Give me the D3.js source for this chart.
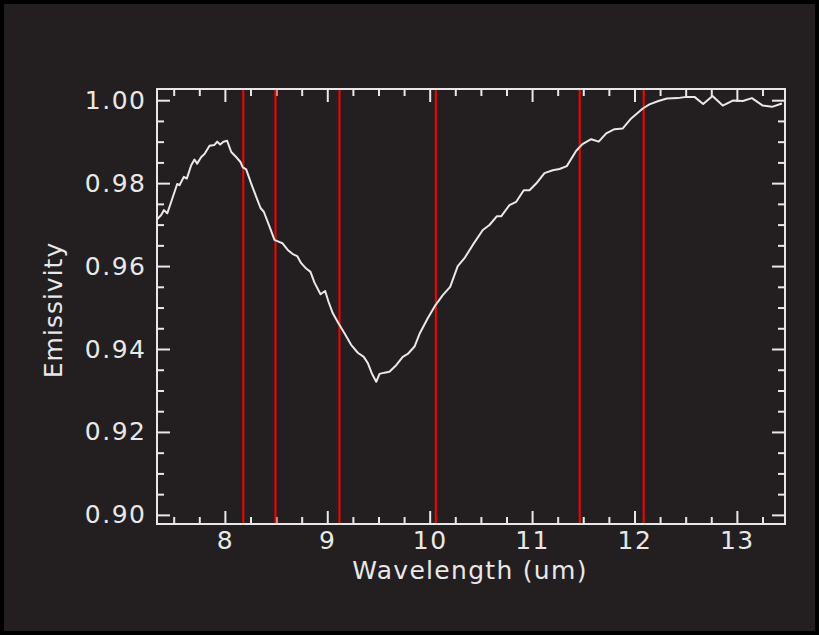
<!DOCTYPE html>
<html>
<head>
<meta charset="utf-8">
<script src="https://cdn.jsdelivr.net/npm/d3@7"></script>
<style>
  html, body { margin: 0; padding: 0; background: #000; }
  svg { display: block; }
</style>
</head>
<body>
<svg id="chart" width="819" height="635"></svg>
<script>
// ---- data ----
const wavelength = [
  7.339, 7.378, 7.405, 7.437, 7.476, 7.534, 7.557, 7.599, 7.628, 7.671,
  7.703, 7.729, 7.769, 7.801, 7.850, 7.898, 7.925, 7.954, 7.986, 8.022,
  8.062, 8.110, 8.152, 8.175, 8.208, 8.257, 8.306, 8.348, 8.380, 8.436,
  8.484, 8.523, 8.563, 8.614, 8.663, 8.706, 8.745, 8.794, 8.836, 8.875,
  8.934, 8.979, 9.012, 9.054, 9.109, 9.168, 9.233, 9.298, 9.356, 9.396,
  9.435, 9.478, 9.510, 9.559, 9.607, 9.673, 9.737, 9.786, 9.852, 9.900,
  9.981, 10.057, 10.128, 10.200, 10.274, 10.340, 10.421, 10.519, 10.584, 10.655,
  10.698, 10.779, 10.845, 10.919, 10.975, 11.040, 11.121, 11.202, 11.268, 11.339,
  11.431, 11.492, 11.577, 11.651, 11.724, 11.805, 11.886, 11.968, 12.081, 12.146,
  12.234, 12.317, 12.423, 12.505, 12.586, 12.671, 12.762, 12.862, 12.960, 13.058,
  13.147, 13.253, 13.343, 13.440
];
const emissivity = [
  0.9713, 0.9723, 0.9735, 0.9727, 0.9755, 0.9798, 0.9795, 0.9815, 0.9811, 0.9843,
  0.9857, 0.9847, 0.9863, 0.9870, 0.9890, 0.9892, 0.9900, 0.9893, 0.9900, 0.9902,
  0.9875, 0.9863, 0.9851, 0.9838, 0.9833, 0.9799, 0.9767, 0.9740, 0.9731, 0.9695,
  0.9663, 0.9659, 0.9655, 0.9639, 0.9629, 0.9624, 0.9607, 0.9594, 0.9586, 0.9560,
  0.9532, 0.9540, 0.9514, 0.9486, 0.9462, 0.9438, 0.9410, 0.9391, 0.9381, 0.9366,
  0.9341, 0.9321, 0.9340, 0.9343, 0.9345, 0.9361, 0.9381, 0.9388, 0.9406, 0.9436,
  0.9474, 0.9506, 0.9530, 0.9550, 0.9600, 0.9619, 0.9651, 0.9687, 0.9699, 0.9720,
  0.9720, 0.9747, 0.9755, 0.9783, 0.9783, 0.9799, 0.9824, 0.9831, 0.9834, 0.9841,
  0.9878, 0.9894, 0.9906, 0.9900, 0.9920, 0.9930, 0.9932, 0.9956, 0.9980, 0.9990,
  0.9998, 1.0004, 1.0005, 1.0008, 1.0008, 0.9991, 1.0010, 0.9987, 0.9999, 0.9998,
  1.0005, 0.9987, 0.9984, 0.9992
];
const bandLines = [8.18, 8.494, 9.119, 10.06, 11.465, 12.09];
const xMajorTicks = [8, 9, 10, 11, 12, 13];
const xMinorTicks = [7.5, 7.75, 8.25, 8.5, 8.75, 9.25, 9.5, 9.75, 10.25, 10.5, 10.75,
                     11.25, 11.5, 11.75, 12.25, 12.5, 12.75, 13.25];
const yMajorTicks = [0.90, 0.92, 0.94, 0.96, 0.98, 1.00];
const yMinorTicks = [0.905, 0.91, 0.915, 0.925, 0.93, 0.935, 0.945, 0.95, 0.955,
                     0.965, 0.97, 0.975, 0.985, 0.99, 0.995];
const xTitle = "Wavelength (um)";
const yTitle = "Emissivity";

// ---- layout ----
const W = 819, H = 635;
const L = 157, R = 785, T = 89, B = 524;
const fg = "#e8e8e8";
const fontFam = "'DejaVu Sans', sans-serif";

const svg = d3.select("#chart");
svg.append("rect").attr("x", 0).attr("y", 0).attr("width", W).attr("height", H).attr("fill", "#000");
svg.append("rect").attr("x", 4).attr("y", 4).attr("width", W - 8).attr("height", H - 8).attr("fill", "#231f20");

const x = d3.scaleLinear().domain([7.337, 13.47]).range([L, R]);
const y = d3.scaleLinear().domain([0.8978, 1.0027]).range([B, T]);

function styleAxis(g) {
  g.select(".domain").remove();
  g.selectAll(".tick line").attr("stroke", fg).attr("stroke-width", 2);
  g.selectAll(".tick text").attr("fill", fg)
    .style("font-family", fontFam).style("font-size", "25px").style("letter-spacing", "1.5px");
}

// minor ticks (no labels)
const minorLen = 7, majorLen = 13;
svg.append("g").attr("transform", `translate(0,${B})`)
  .call(d3.axisBottom(x).tickValues(xMinorTicks).tickSize(-minorLen).tickFormat(""))
  .call(styleAxis);
svg.append("g").attr("transform", `translate(0,${T})`)
  .call(d3.axisTop(x).tickValues(xMinorTicks).tickSize(-minorLen).tickFormat(""))
  .call(styleAxis);
svg.append("g").attr("transform", `translate(${L},0)`)
  .call(d3.axisLeft(y).tickValues(yMinorTicks).tickSize(-minorLen).tickFormat(""))
  .call(styleAxis);
svg.append("g").attr("transform", `translate(${R},0)`)
  .call(d3.axisRight(y).tickValues(yMinorTicks).tickSize(-minorLen).tickFormat(""))
  .call(styleAxis);

// major ticks
svg.append("g").attr("transform", `translate(0,${B})`)
  .call(d3.axisBottom(x).tickValues(xMajorTicks).tickSize(-majorLen).tickPadding(7).tickFormat(d3.format("d")))
  .call(styleAxis);
svg.append("g").attr("transform", `translate(0,${T})`)
  .call(d3.axisTop(x).tickValues(xMajorTicks).tickSize(-majorLen).tickFormat(""))
  .call(styleAxis);
svg.append("g").attr("transform", `translate(${L},0)`)
  .call(d3.axisLeft(y).tickValues(yMajorTicks).tickSize(-majorLen).tickPadding(10.5).tickFormat(d3.format(".2f")))
  .call(styleAxis);
svg.append("g").attr("transform", `translate(${R},0)`)
  .call(d3.axisRight(y).tickValues(yMajorTicks).tickSize(-majorLen).tickFormat(""))
  .call(styleAxis);

// red band lines
svg.append("g").selectAll("line").data(bandLines).join("line")
  .attr("x1", d => x(d)).attr("x2", d => x(d))
  .attr("y1", T).attr("y2", B)
  .attr("stroke", "#ff0000").attr("stroke-width", 2);

// spectrum line
const pts = wavelength.map((w, i) => [w, emissivity[i]]);
svg.append("path").datum(pts)
  .attr("fill", "none").attr("stroke", fg).attr("stroke-width", 2)
  .attr("stroke-linejoin", "round")
  .attr("d", d3.line().x(d => x(d[0])).y(d => y(d[1])));

// frame
svg.append("rect").attr("x", L).attr("y", T).attr("width", R - L).attr("height", B - T)
  .attr("fill", "none").attr("stroke", fg).attr("stroke-width", 2);

// titles
svg.append("text").attr("x", 470).attr("y", 579)
  .attr("text-anchor", "middle").attr("fill", fg)
  .style("font-family", fontFam).style("font-size", "25px").style("letter-spacing", "1.3px")
  .text(xTitle);
svg.append("text")
  .attr("transform", `translate(62,${310}) rotate(-90)`)
  .attr("text-anchor", "middle").attr("fill", fg)
  .style("font-family", fontFam).style("font-size", "25px").style("letter-spacing", "1px")
  .text(yTitle);
</script>
</body>
</html>
